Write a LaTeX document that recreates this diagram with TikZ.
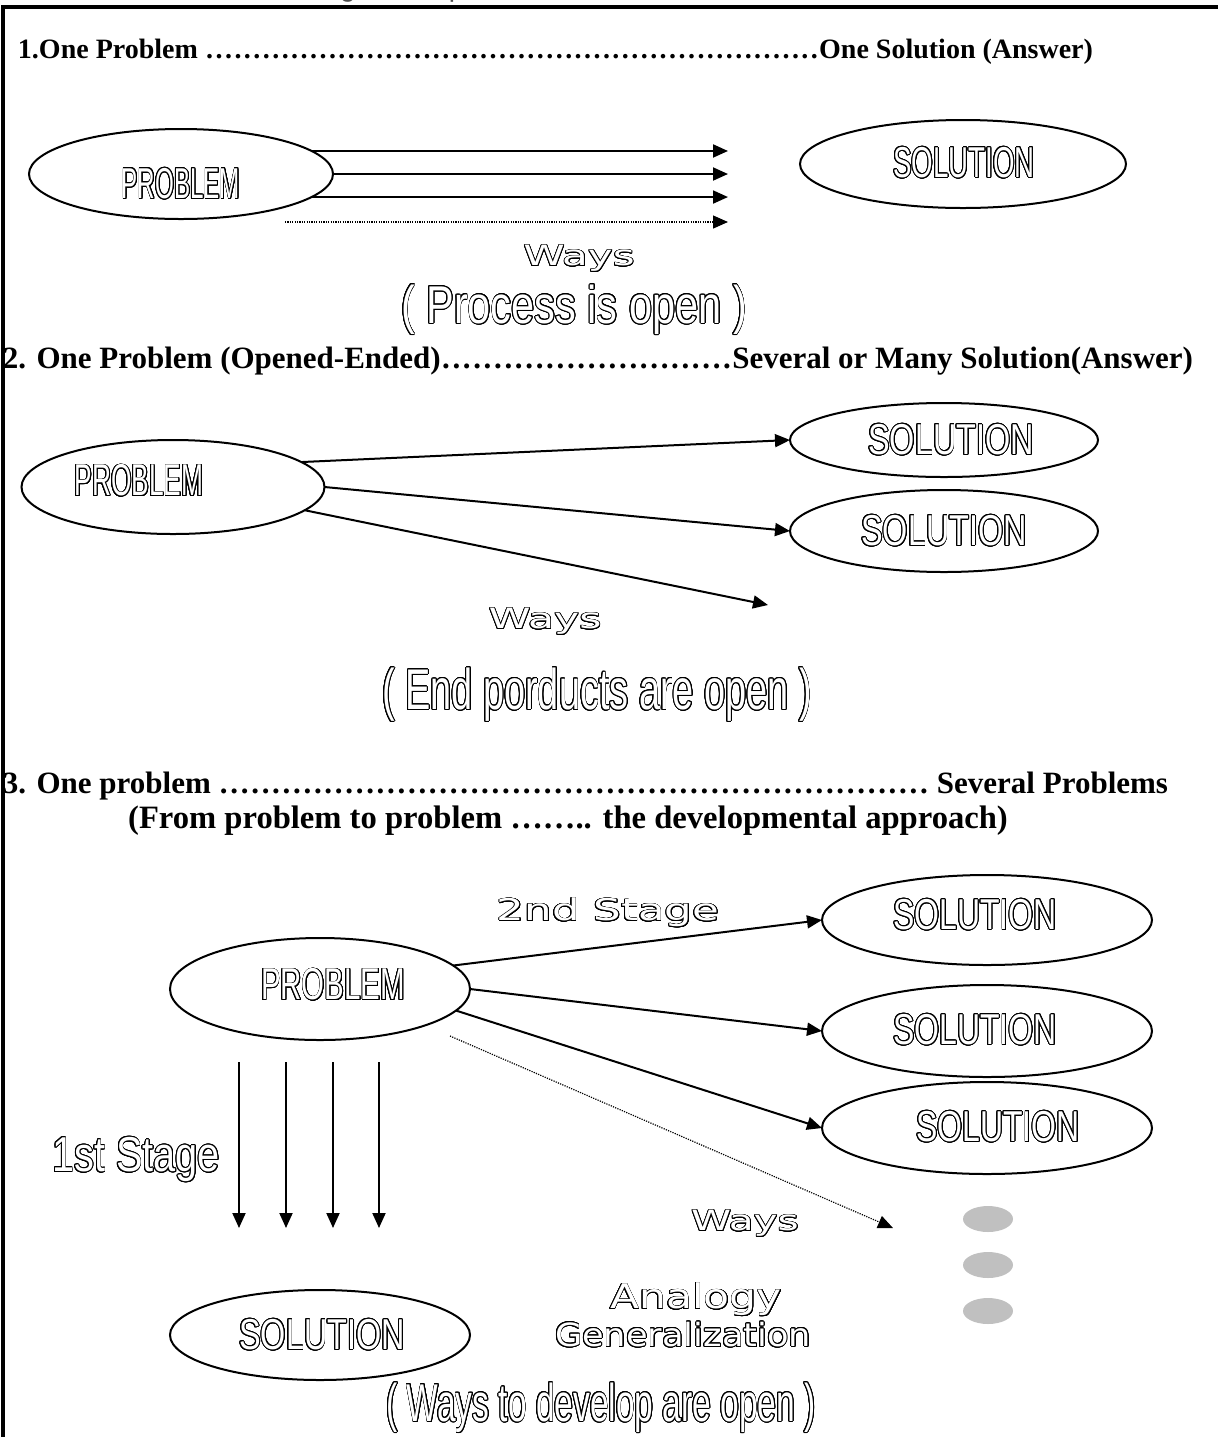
\documentclass[tikz,border=0pt]{standalone}
\usepackage{fontspec}
\setmainfont{Liberation Serif}
\setsansfont{Liberation Sans}
\newfontfamily\widefont{DejaVu Sans}
\usepackage[copies]{contour}
\usetikzlibrary{arrows.meta,shapes.geometric}

\contourlength{0.42pt}
\contournumber{24}
\definecolor{dotgray}{HTML}{C0C0C0}

% hollow (outlined) lettering, squeezed or stretched sideways
\newcommand{\hol}[2]{\textcolor{white}{\contour{black}{\scalebox{#1}[1]{#2}}}}
% row of dots filling a heading
\newcommand{\dotrun}{\xleaders\hbox to 0.333em{\hss.\hss}\hfill}
% heading set to a fixed width
\newcommand{\hrow}[2]{\hbox to #1{#2}}

\begin{document}
\begin{tikzpicture}[x=0.5pt, y=-0.5pt, line width=1pt,
  every node/.style={inner sep=0pt, outer sep=0pt},
  head/.style={anchor=base west, font=\bfseries\fontsize{15.5}{18}\selectfont},
  oval/.style 2 args={draw, ellipse, line width=1pt,
    minimum width=#1*0.5pt, minimum height=#2*0.5pt},
  tall/.style={font=\sffamily\fontsize{#1}{#1}\selectfont},
  wide/.style={font=\widefont\fontsize{#1}{#1}\selectfont},
  way/.style={-{Triangle[length=7.5pt,width=6.5pt]}, line width=1pt},
  faint/.style={way, line width=0.6pt, dash pattern=on 0.6pt off 0.6pt},
  blob/.style={ellipse, fill=dotgray, minimum width=25pt, minimum height=13pt}]
  \useasboundingbox (0,0) rectangle (1218,1437);
  % frame (cut off on the right and below) and the clipped caption
  \draw[line width=1.6pt] (1240,7) -- (3,7) -- (3,1460);
  \node[anchor=base, font=\sffamily\fontsize{14}{14}\selectfont, text=black!70]
    (title) at (600,-4) {Figure 3 Openness in Mathematics Education};

  % 1. one problem, one solution
  \node[head, font=\bfseries\fontsize{14}{17}\selectfont] (h1) at (18,58)
    {\hrow{537.5pt}{1.One Problem \dotrun One Solution (Answer)}};
  \node[oval={304}{90}] (p1) at (181,174) {};
  \node[tall=21.6] (p1t) at (181,184) {\hol{0.56}{PROBLEM}};
  \node[oval={326}{88}] (s1) at (963,164) {};
  \node[tall=21.6] (s1t) at (964,163) {\hol{0.64}{SOLUTION}};
  \coordinate (w1) at (728,0);
  \draw[way] (p1.10) -- (p1.10 -| w1);
  \draw[way] (p1.east) -- (p1.east -| w1);
  \draw[way] (p1.-10) -- (p1.-10 -| w1);
  \coordinate (d1) at (285,222);
  \draw[faint] (d1) -- (d1 -| w1);
  \node[wide=14] (w1t) at (579,259) {\hol{1.5}{Ways}};
  \node[tall=26.6] (open1) at (574,310) {\hol{0.78}{( Process is open )}};

  % 2. one problem, several solutions
  \node[head] (h2) at (3,368)
    {\hrow{595pt}{2. One Problem (Opened-Ended)\dotrun Several or Many Solution(Answer)}};
  \node[oval={303}{94}] (p2) at (173,487) {};
  \node[tall=22.3] (p2t) at (139,481) {\hol{0.59}{PROBLEM}};
  \node[oval={308}{74}] (s2a) at (944,440) {};
  \node[tall=21.6] (s2at) at (951,440) {\hol{0.75}{SOLUTION}};
  \node[oval={308}{82}] (s2b) at (944,531) {};
  \node[tall=21.6] (s2bt) at (944,531) {\hol{0.75}{SOLUTION}};
  \coordinate (e2) at (768,605);
  \draw[way] (p2.11) -- (s2a.west);
  \draw[way] (p2.east) -- (s2b.west);
  \draw[way] (p2.-10) -- (e2);
  \node[wide=14] (w2t) at (545,622) {\hol{1.52}{Ways}};
  \node[tall=28.7] (open2) at (597,695) {\hol{0.66}{( End porducts are open )}};

  % 3. one problem, several problems
  \node[head] (h3) at (3,793)
    {\hrow{582.5pt}{3. One problem \dotrun\ Several Problems}};
  \node[head, anchor=base, font=\bfseries\fontsize{16.3}{19}\selectfont] (h3b) at (568,828)
    {(From problem to problem …….. the developmental approach)};
  \node[wide=15] (st2) at (608,913) {\hol{1.45}{2nd Stage}};
  \node[oval={300}{102}] (p3) at (320,989) {};
  \node[tall=22.3] (p3t) at (333,985) {\hol{0.66}{PROBLEM}};
  \node[oval={330}{90}] (s3a) at (987,920) {};
  \node[tall=21.6] (s3at) at (975,915) {\hol{0.74}{SOLUTION}};
  \node[oval={330}{92}] (s3b) at (987,1031) {};
  \node[tall=21.6] (s3bt) at (975,1030) {\hol{0.74}{SOLUTION}};
  \node[oval={330}{92}] (s3c) at (987,1128) {};
  \node[tall=21.6] (s3ct) at (998,1127) {\hol{0.74}{SOLUTION}};
  \draw[way] (p3.10) -- (s3a.west);
  \draw[way] (p3.east) -- (s3b.west);
  \draw[way] (p3.-9) -- (s3c.west);
  \coordinate (d3a) at (450,1036);
  \coordinate (d3b) at (893,1228);
  \draw[faint] (d3a) -- (d3b);
  % first stage: four ways down to the solution
  \foreach \xx in {239,286,333,379}
    \draw[way] (\xx,1062) -- (\xx,1228);
  \node[tall=24.5] (st1) at (136,1160) {\hol{0.81}{1st Stage}};
  \node[wide=14] (w3t) at (745,1224) {\hol{1.45}{Ways}};
  \node[blob] (g1) at (988,1219) {};
  \node[blob] (g2) at (988,1265) {};
  \node[blob] (g3) at (988,1311) {};
  \node[wide=17] (an) at (696,1300) {\hol{1.25}{Analogy}};
  \node[wide=16] (gen) at (683,1335) {\hol{1.1}{Generalization}};
  \node[oval={300}{90}] (s3d) at (320,1335) {};
  \node[tall=21.6] (s3dt) at (322,1335) {\hol{0.75}{SOLUTION}};
  \node[tall=26.6] (open3) at (601,1408) {\hol{0.63}{( Ways to develop are open )}};
\end{tikzpicture}
\end{document}
